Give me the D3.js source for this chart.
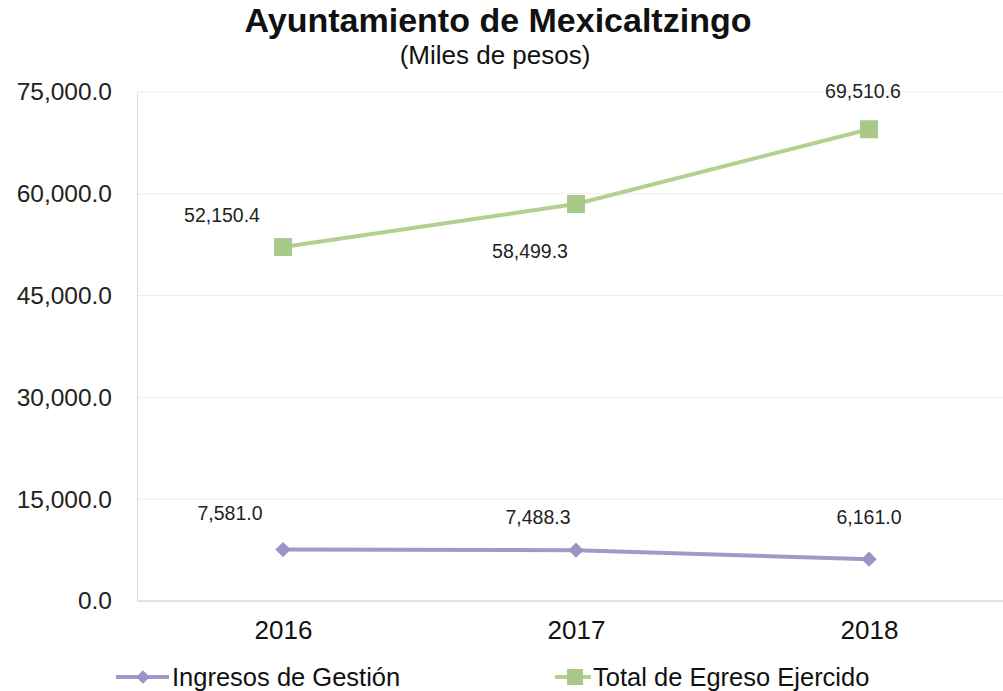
<!DOCTYPE html>
<html><head><meta charset="utf-8">
<script src="https://cdn.jsdelivr.net/npm/d3@7"></script>
<style>body{margin:0;background:#fff}svg{display:block}text{font-family:"Liberation Sans",Arial,sans-serif}</style>
</head><body>
<script>
const years = ["2016","2017","2018"];
const ingresos = [7581.0, 7488.3, 6161.0];
const egresos = [52150.4, 58499.3, 69510.6];
const yTicks = [0, 15000, 30000, 45000, 60000, 75000];
const seriesNames = ["Ingresos de Gestión", "Total de Egreso Ejercido"];

const W = 1003, H = 691;
const svg = d3.select("body").append("svg").attr("width", W).attr("height", H);
const x = d3.scalePoint().domain(years).range([283, 869]);
const y = d3.scaleLinear().domain([0, 75000]).range([601, 92]);
const fmt = d3.format(",.1f");
const purple = "#a597c6", green = "#b4d091";

svg.append("text").attr("x", 498).attr("y", 32).attr("text-anchor", "middle")
  .attr("font-size", 34).attr("font-weight", "bold").attr("fill", "#111").text("Ayuntamiento de Mexicaltzingo");
svg.append("text").attr("x", 495).attr("y", 64).attr("text-anchor", "middle")
  .attr("font-size", 26).attr("fill", "#111").text("(Miles de pesos)");

// grid
svg.append("g").selectAll("line").data(yTicks.filter(d => d > 0)).join("line")
  .attr("x1", 137).attr("x2", W).attr("y1", d => y(d)).attr("y2", d => y(d))
  .attr("stroke", "#ececec").attr("stroke-width", 1);
const yAxis = svg.append("g").attr("transform", "translate(137,0)")
  .call(d3.axisLeft(y).tickValues(yTicks).tickFormat(fmt).tickSize(0).tickPadding(25));
yAxis.select(".domain").attr("stroke", "#d9d9d9");
yAxis.selectAll("text").attr("font-size", 24.5).attr("fill", "#222");
svg.append("line").attr("x1", 137).attr("x2", W).attr("y1", y(0)).attr("y2", y(0)).attr("stroke", "#d9d9d9").attr("stroke-width", 1.5);

const xAxis = svg.append("g").attr("transform", `translate(0,${y(0)})`)
  .call(d3.axisBottom(x).tickSize(0).tickPadding(20));
xAxis.select(".domain").remove();
xAxis.selectAll("text").attr("font-size", 26).attr("fill", "#111");

const line = d3.line().x((d, i) => x(years[i])).y(d => y(d));
svg.append("path").datum(egresos).attr("d", line).attr("fill", "none").attr("stroke", green).attr("stroke-width", 4);
svg.append("path").datum(ingresos).attr("d", line).attr("fill", "none").attr("stroke", purple).attr("stroke-width", 4);

svg.append("g").selectAll("rect").data(egresos).join("rect")
  .attr("x", (d, i) => x(years[i]) - 9).attr("y", d => y(d) - 9).attr("width", 18).attr("height", 18).attr("fill", "#a9c98a");
svg.append("g").selectAll("path").data(ingresos).join("path")
  .attr("d", d3.symbol(d3.symbolDiamond2, 150)).attr("transform", (d, i) => `translate(${x(years[i])},${y(d)})`).attr("fill", "#a092c4");

const gOff = [[-61, -25], [-46, 54], [-6, -31]];
svg.append("g").selectAll("text").data(egresos).join("text")
  .attr("x", (d, i) => x(years[i]) + gOff[i][0]).attr("y", (d, i) => y(d) + gOff[i][1])
  .attr("text-anchor", "middle").attr("font-size", 19.5).attr("fill", "#222").text(fmt);
const pOff = [[-53, -30], [-38, -26], [0, -35]];
svg.append("g").selectAll("text").data(ingresos).join("text")
  .attr("x", (d, i) => x(years[i]) + pOff[i][0]).attr("y", (d, i) => y(d) + pOff[i][1])
  .attr("text-anchor", "middle").attr("font-size", 19.5).attr("fill", "#222").text(fmt);

// legend
const lg = svg.append("g");
lg.append("line").attr("x1", 116).attr("x2", 169).attr("y1", 677).attr("y2", 677).attr("stroke", purple).attr("stroke-width", 4);
lg.append("path").attr("d", d3.symbol(d3.symbolDiamond2, 120)).attr("transform", "translate(143,677)").attr("fill", "#a092c4");
lg.append("text").attr("x", 172).attr("y", 686).attr("font-size", 25.5).attr("fill", "#111").text(seriesNames[0]);
lg.append("line").attr("x1", 555).attr("x2", 591).attr("y1", 677).attr("y2", 677).attr("stroke", green).attr("stroke-width", 4);
lg.append("rect").attr("x", 567).attr("y", 669).attr("width", 16).attr("height", 16).attr("fill", "#a9c98a");
lg.append("text").attr("x", 593).attr("y", 686).attr("font-size", 25.5).attr("fill", "#111").text(seriesNames[1]);
</script>
</body></html>
